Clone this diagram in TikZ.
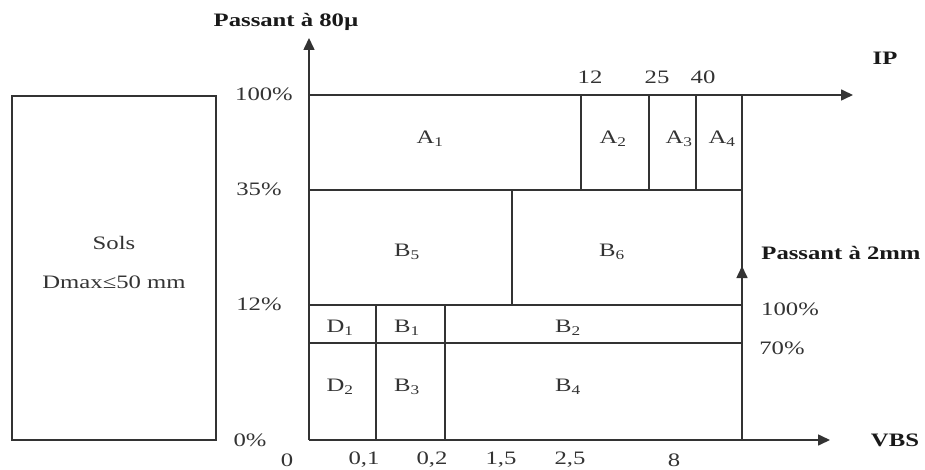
\documentclass[tikz,border=0pt]{standalone}
\usepackage{fontspec}
\setmainfont{Liberation Serif}[FakeStretch=1.3]
\usetikzlibrary{arrows.meta}
\begin{document}
\begin{tikzpicture}[x=1pt,y=-1pt,
  grid/.style={line width=1.6pt,draw=black!80},
  axis/.style={line width=1.6pt,draw=black!80,-{Triangle[length=12pt,width=11pt]}},
  lbl/.style={inner sep=0pt,font=\fontsize{19}{21}\selectfont,text=black!80},
  blbl/.style={inner sep=0pt,font=\fontsize{19}{21}\selectfont\bfseries,text=black!90}]
\useasboundingbox (0,0) rectangle (925,470);
% coordinates
\coordinate (o) at (309,440);
\coordinate (tl) at (309,95);
\coordinate (ytop) at (309,38);
\coordinate (ipend) at (853,95);
\coordinate (vbsend) at (830,440);
\coordinate (rt) at (742,95);
\coordinate (rb) at (742,440);
\coordinate (rarrow) at (742,266);
% left box
\node[draw=black!80,line width=1.6pt,minimum width=204pt,minimum height=344pt,inner sep=0pt] (sols) at (114,268) {};
\node[lbl] (solsA) at (114,243) {Sols};
\node[lbl] (solsB) at (114,282) {Dmax≤50 mm};
% axes
\draw[axis] (o) -- (ytop);
\draw[axis] (tl) -- (ipend);
\draw[axis] (o) -- (vbsend);
\draw[grid] (rb) -- (rt);
\draw[axis] (rb) -- (rarrow);
% horizontal grid lines
\draw[grid] (309,190) -- (742,190);
\draw[grid] (309,305) -- (742,305);
\draw[grid] (309,343) -- (742,343);
% vertical grid lines
\draw[grid] (581,95) -- (581,190);
\draw[grid] (649,95) -- (649,190);
\draw[grid] (696,95) -- (696,190);
\draw[grid] (512,190) -- (512,305);
\draw[grid] (376,305) -- (376,440);
\draw[grid] (445,305) -- (445,440);
% cell labels
\node[lbl] (A1) at (430,139) {A\textsubscript{1}};
\node[lbl] (A2) at (613,139) {A\textsubscript{2}};
\node[lbl] (A3) at (679,139) {A\textsubscript{3}};
\node[lbl] (A4) at (722,139) {A\textsubscript{4}};
\node[lbl] (B5) at (407,252) {B\textsubscript{5}};
\node[lbl] (B6) at (612,252) {B\textsubscript{6}};
\node[lbl] (D1) at (340,328) {D\textsubscript{1}};
\node[lbl] (B1) at (407,328) {B\textsubscript{1}};
\node[lbl] (B2) at (568,328) {B\textsubscript{2}};
\node[lbl] (D2) at (340,387) {D\textsubscript{2}};
\node[lbl] (B3) at (407,387) {B\textsubscript{3}};
\node[lbl] (B4) at (568,387) {B\textsubscript{4}};
% left percentages
\node[lbl] (p100) at (264,94) {100\%};
\node[lbl] (p35) at (259,189) {35\%};
\node[lbl] (p12) at (259,304) {12\%};
\node[lbl] (p0) at (250,440) {0\%};
% IP ticks
\node[lbl] (ip12) at (590,77) {12};
\node[lbl] (ip25) at (657,77) {25};
\node[lbl] (ip40) at (703,77) {40};
% VBS ticks
\node[lbl] (v0) at (287,460) {0};
\node[lbl] (v01) at (364,460) {0,1};
\node[lbl] (v02) at (432,460) {0,2};
\node[lbl] (v15) at (501,460) {1,5};
\node[lbl] (v25) at (570,460) {2,5};
\node[lbl] (v8) at (674,460) {8};
% right labels
\node[lbl] (r100) at (790,309) {100\%};
\node[lbl] (r70) at (782,348) {70\%};
% axis titles
\node[blbl] (t80) at (286,22) {Passant à 80µ};
\node[blbl] (tip) at (885,58) {IP};
\node[blbl] (t2) at (841,253) {Passant à 2mm};
\node[blbl] (tvbs) at (895,440) {VBS};
\end{tikzpicture}
\end{document}
